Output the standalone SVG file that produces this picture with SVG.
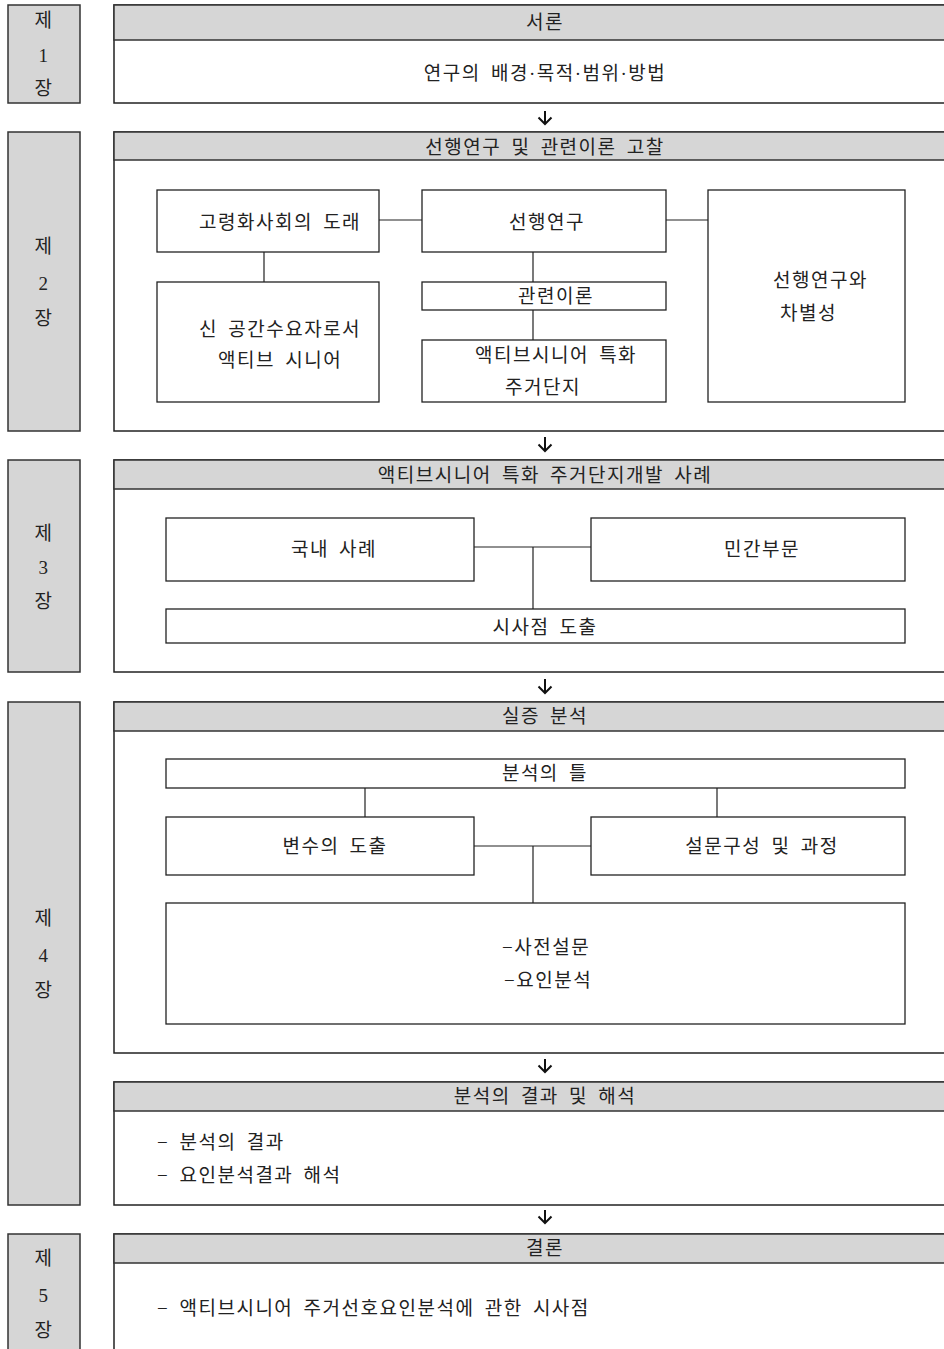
<svg xmlns="http://www.w3.org/2000/svg" width="944" height="1349" viewBox="0 0 944 1349">
<style>
text{font-family:"Liberation Serif","Noto Sans CJK KR",serif;font-size:19px;fill:#222;dominant-baseline:central;letter-spacing:1.5px;word-spacing:4px}
.c{text-anchor:middle}
.lab{fill:#d6d6d6;stroke:#333;stroke-width:1.5}
.hdr{fill:#d6d6d6;stroke:#333;stroke-width:1.5}
.body{fill:#fff;stroke:#222;stroke-width:1.5}
.box{fill:#fff;stroke:#222;stroke-width:1.3}
.ln{stroke:#222;stroke-width:1.2;fill:none}
.arr{stroke:#111;stroke-width:2;fill:none}
</style>
<rect width="944" height="1349" fill="#fff"/>

<!-- Chapter labels -->
<g id="ch1-label"><rect class="lab" x="8" y="5" width="72" height="98"/><text class="c" x="44" y="20">제</text><text class="c" x="44" y="55">1</text><text class="c" x="44" y="88">장</text></g>
<g id="ch2-label"><rect class="lab" x="8" y="132" width="72" height="299"/><text class="c" x="44" y="246">제</text><text class="c" x="44" y="283">2</text><text class="c" x="44" y="318">장</text></g>
<g id="ch3-label"><rect class="lab" x="8" y="460" width="72" height="212"/><text class="c" x="44" y="533">제</text><text class="c" x="44" y="567">3</text><text class="c" x="44" y="601">장</text></g>
<g id="ch4-label"><rect class="lab" x="8" y="702" width="72" height="503"/><text class="c" x="44" y="918">제</text><text class="c" x="44" y="955">4</text><text class="c" x="44" y="990">장</text></g>
<g id="ch5-label"><rect class="lab" x="8" y="1234" width="72" height="130"/><text class="c" x="44" y="1258">제</text><text class="c" x="44" y="1295">5</text><text class="c" x="44" y="1330">장</text></g>

<!-- Chapter 1 -->
<g id="ch1">
<rect class="body" x="114" y="5" width="850" height="98"/>
<rect class="hdr" x="114" y="5" width="850" height="35"/>
<text class="c" x="545" y="22">서론</text>
<text class="c" x="545" y="73">연구의 배경·목적·범위·방법</text>
</g>

<!-- Chapter 2 -->
<g id="ch2">
<rect class="body" x="114" y="132" width="850" height="299"/>
<rect class="hdr" x="114" y="132" width="850" height="28"/>
<text class="c" x="545" y="147">선행연구 및 관련이론 고찰</text>
</g>
<g id="n-aging"><rect class="box" x="157" y="190" width="222" height="62"/><text x="199" y="222">고령화사회의 도래</text></g>
<g id="n-active"><rect class="box" x="157" y="282" width="222" height="120"/><text x="199" y="329">신 공간수요자로서</text><text x="218" y="360">액티브 시니어</text></g>
<g id="n-prior"><rect class="box" x="422" y="190" width="244" height="62"/><text class="c" x="547" y="222">선행연구</text></g>
<g id="n-theory"><rect class="box" x="422" y="282" width="244" height="28"/><text class="c" x="556" y="296">관련이론</text></g>
<g id="n-housing"><rect class="box" x="422" y="340" width="244" height="62"/><text x="475" y="355">액티브시니어 특화</text><text x="505" y="387">주거단지</text></g>
<g id="n-diff"><rect class="box" x="708" y="190" width="197" height="212"/><text x="773" y="280">선행연구와</text><text x="780" y="313">차별성</text></g>

<!-- Chapter 3 -->
<g id="ch3">
<rect class="body" x="114" y="460" width="850" height="212"/>
<rect class="hdr" x="114" y="460" width="850" height="29"/>
<text class="c" x="545" y="475">액티브시니어 특화 주거단지개발 사례</text>
</g>
<g id="n-domestic"><rect class="box" x="166" y="518" width="308" height="63"/><text class="c" x="334" y="549">국내 사례</text></g>
<g id="n-private"><rect class="box" x="591" y="518" width="314" height="63"/><text class="c" x="762" y="549">민간부문</text></g>
<g id="n-implication"><rect class="box" x="166" y="609" width="739" height="34"/><text class="c" x="545" y="627">시사점 도출</text></g>

<!-- Chapter 4 -->
<g id="ch4">
<rect class="body" x="114" y="702" width="850" height="351"/>
<rect class="hdr" x="114" y="702" width="850" height="29"/>
<text class="c" x="545" y="716">실증 분석</text>
</g>
<g id="n-frame"><rect class="box" x="166" y="759" width="739" height="29"/><text class="c" x="545" y="773">분석의 틀</text></g>
<g id="n-var"><rect class="box" x="166" y="817" width="308" height="58"/><text class="c" x="335" y="846">변수의 도출</text></g>
<g id="n-survey"><rect class="box" x="591" y="817" width="314" height="58"/><text class="c" x="762" y="846">설문구성 및 과정</text></g>
<g id="n-method"><rect class="box" x="166" y="903" width="739" height="121"/><text x="502" y="947">−사전설문</text><text x="504" y="980">−요인분석</text></g>

<g id="ch4-result">
<rect class="body" x="114" y="1082" width="850" height="123"/>
<rect class="hdr" x="114" y="1082" width="850" height="29"/>
<text class="c" x="545" y="1096">분석의 결과 및 해석</text>
<text x="157" y="1142">−  분석의 결과</text>
<text x="157" y="1175">−  요인분석결과 해석</text>
</g>

<!-- Chapter 5 -->
<g id="ch5">
<rect class="body" x="114" y="1234" width="850" height="130"/>
<rect class="hdr" x="114" y="1234" width="850" height="29"/>
<text class="c" x="545" y="1248">결론</text>
<text x="157" y="1308">−  액티브시니어 주거선호요인분석에 관한 시사점</text>
</g>

<!-- Connectors -->
<g id="connectors">
<path class="ln" d="M379 220H422 M666 220H708 M264 252V282 M533 252V282 M533 310V340"/>
<path class="ln" d="M474 547H591 M533 547V609"/>
<path class="ln" d="M365 788V817 M717 788V817 M474 846H591 M533 846V903"/>
<g class="arr">
<path d="M545 111V124 M538.5 117.5L545 124L551.5 117.5"/>
<path d="M545 437V451 M538.5 444.5L545 451L551.5 444.5"/>
<path d="M545 679V693 M538.5 686.5L545 693L551.5 686.5"/>
<path d="M545 1059V1072 M538.5 1065.5L545 1072L551.5 1065.5"/>
<path d="M545 1210V1223 M538.5 1216.5L545 1223L551.5 1216.5"/>
</g>
</g>
</svg>
